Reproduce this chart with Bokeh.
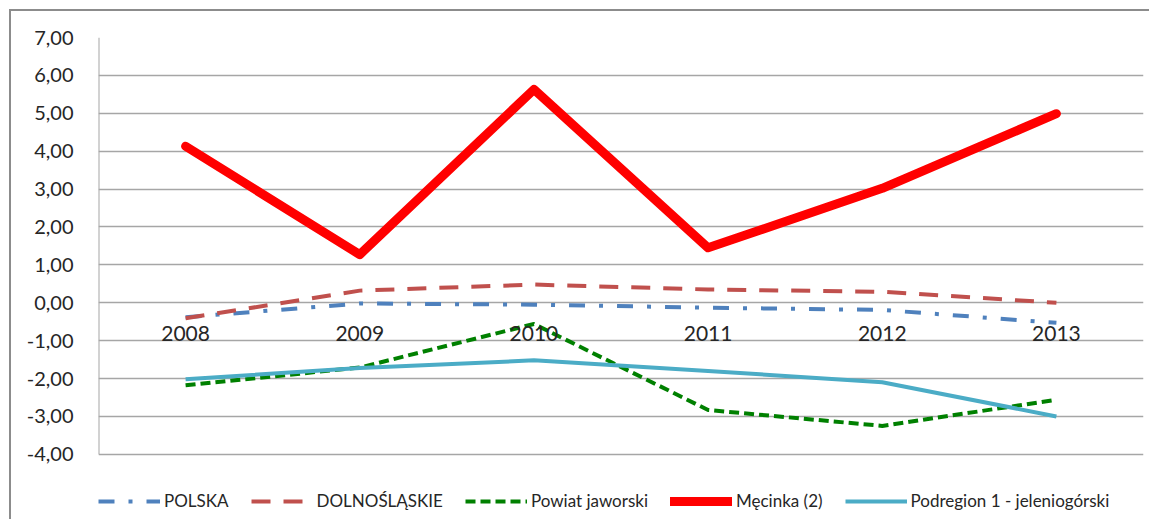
from bokeh.plotting import figure
from bokeh.models import (FactorRange, Range1d, FixedTicker, CustomJSTickFormatter,
                          Legend, LegendItem, ColumnDataSource)
from bokeh.transform import dodge
from bokeh.core.properties import value
from bokeh.embed import file_html
from bokeh.resources import INLINE

years = ["2008", "2009", "2010", "2011", "2012", "2013"]
polska = [-0.38, -0.02, -0.05, -0.13, -0.19, -0.53]
dolnoslaskie = [-0.41, 0.32, 0.48, 0.35, 0.29, 0.0]
powiat_jaworski = [-2.18, -1.71, -0.56, -2.83, -3.25, -2.56]
mecinka = [4.13, 1.27, 5.63, 1.45, 3.02, 4.99]
podregion = [-2.02, -1.72, -1.52, -1.80, -2.10, -3.00]
y_ticks = [-4, -3, -2, -1, 0, 1, 2, 3, 4, 5, 6, 7]
x_axis_crossing = [0] * len(years)

FONT = "Lato"
GRID = "#a6a6a6"

# the frame extends below -4 to leave room for the legend inside it
p = figure(width=1149, height=519, x_range=FactorRange(*years),
           y_range=Range1d(-5.72, 7), output_backend="svg", toolbar_location=None,
           min_border_left=98, min_border_right=6, min_border_top=37,
           min_border_bottom=0,
           styles={"background": "linear-gradient(#8c8c8c,#8c8c8c) 9px 9px / 2px 100% no-repeat, "
                                 "linear-gradient(#8c8c8c,#8c8c8c) 9px 9px / 100% 2px no-repeat, white"})
p.outline_line_color = None
p.background_fill_color = "white"
p.border_fill_color = None

p.x_range.range_padding = 0
p.xgrid.grid_line_color = None
p.ygrid.grid_line_color = GRID
p.ygrid.grid_line_width = 1.5
p.yaxis.ticker = FixedTicker(ticks=y_ticks)
p.yaxis.formatter = CustomJSTickFormatter(code="return tick.toFixed(2).replace('.', ',');")
p.yaxis.axis_line_color = None
p.yaxis.major_tick_line_color = None
p.yaxis.minor_tick_line_color = None
p.yaxis.major_label_text_font = FONT
p.yaxis.major_label_text_font_size = "20px"
p.yaxis.major_label_text_color = "#262626"
p.yaxis.major_label_standoff = 19

p.xaxis.visible = False

# value-axis line, from the lowest to the highest tick, at the left edge of the categories
axis_src = ColumnDataSource(dict(x=[years[0]], y0=[y_ticks[0]], y1=[y_ticks[-1]]))
p.segment(x0=dodge("x", -0.5, range=p.x_range), y0="y0",
          x1=dodge("x", -0.5, range=p.x_range), y1="y1",
          source=axis_src, line_color=GRID, line_width=2)

r1 = p.line(years, polska, line_color="#4f81bd", line_width=4, line_dash="16 14 4 14")
r2 = p.line(years, dolnoslaskie, line_color="#c0504d", line_width=4, line_dash="19 13")
r3 = p.line(years, powiat_jaworski, line_color="#008000", line_width=4, line_dash="10 5")
r4 = p.line(years, mecinka, line_color="#ff0000", line_width=9, line_cap="round",
            line_join="round")
r5 = p.line(years, podregion, line_color="#4bacc6", line_width=4, line_join="round")

# category labels sit where the value axis crosses 0 (as in the original)
p.text(x=years, y=x_axis_crossing, text=years, text_font=value(FONT),
       text_font_size="21px", text_color="#262626", text_align="center",
       text_baseline="top", y_offset=23)

legend = Legend(items=[
    LegendItem(label="POLSKA", renderers=[r1]),
    LegendItem(label="DOLNOŚLĄSKIE", renderers=[r2]),
    LegendItem(label="Powiat jaworski", renderers=[r3]),
    LegendItem(label="Męcinka (2)", renderers=[r4]),
    LegendItem(label="Podregion 1 - jeleniogórski", renderers=[r5]),
], orientation="horizontal", location=(0, 8))
legend.label_text_font = FONT
legend.label_text_font_size = "17px"
legend.label_text_color = "#262626"
legend.glyph_width = 62
legend.spacing = 22
legend.label_standoff = 4
legend.border_line_color = None
legend.background_fill_alpha = 0
legend.margin = 0
legend.padding = 0
p.add_layout(legend, "center")

open("out.html", "w").write(file_html(p, INLINE))
